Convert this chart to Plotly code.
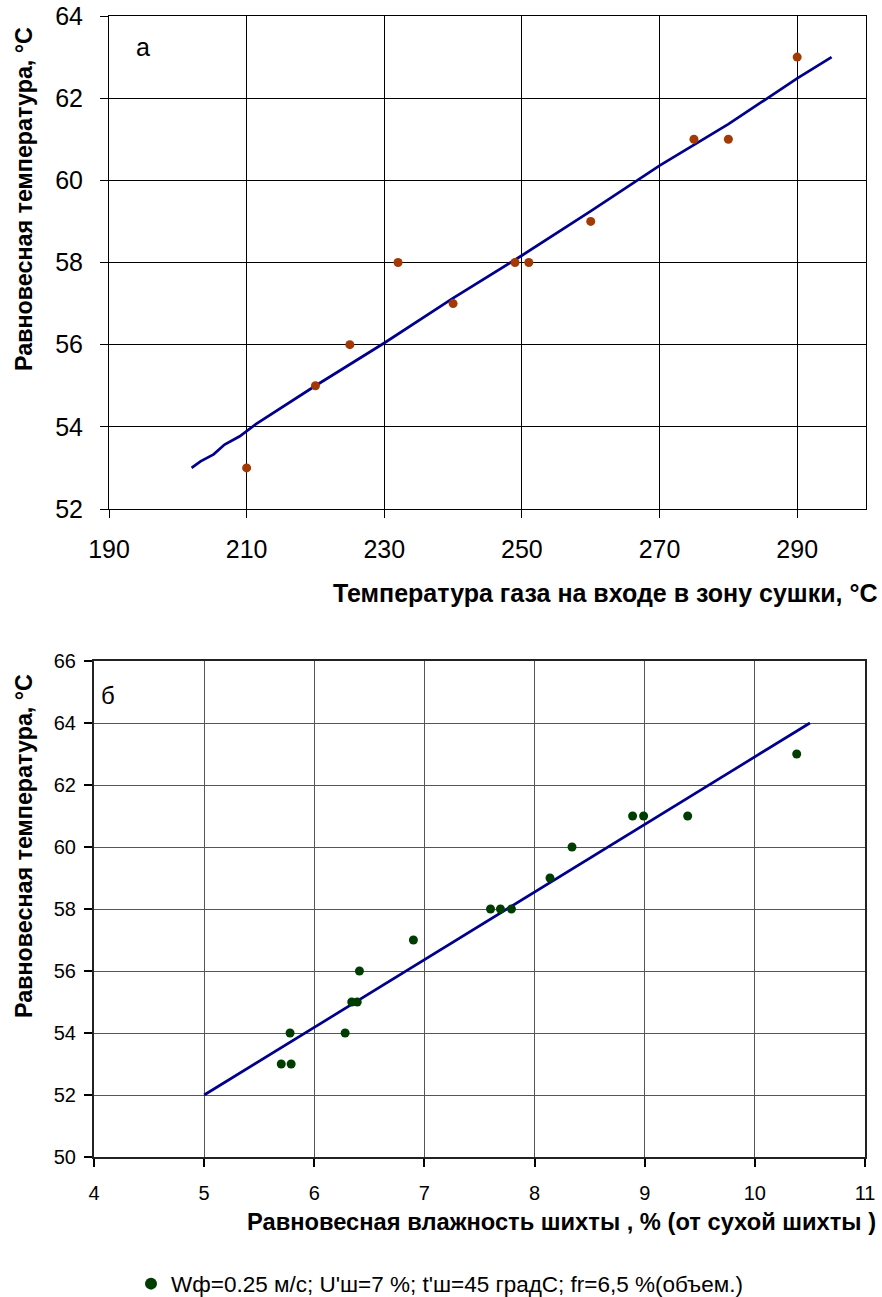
import plotly.graph_objects as go

W, H = 882, 1297

# ---- data: chart "а" ----
a_x = [210, 220, 225, 232, 240, 249, 251, 260, 275, 280, 290]
a_y = [53, 55, 56, 58, 57, 58, 58, 59, 61, 61, 63]
a_fit_x = [202, 203.3, 205.2, 206.8, 209, 211.4, 220, 230, 240, 250, 260, 270, 280, 290, 295]
a_fit_y = [53.0, 53.16, 53.33, 53.57, 53.77, 54.07, 55.0, 56.04, 57.13, 58.17, 59.25, 60.36, 61.37, 62.48, 63.0]
a_xticks = [190, 210, 230, 250, 270, 290]
a_yticks = [52, 54, 56, 58, 60, 62, 64]

# ---- data: chart "б" ----
b_x = [5.70, 5.79, 5.78, 6.28, 6.34, 6.39, 6.41, 6.90, 7.60, 7.69, 7.79, 8.14, 8.34, 8.89, 8.99, 9.39, 10.38]
b_y = [53, 53, 54, 54, 55, 55, 56, 57, 58, 58, 58, 59, 60, 61, 61, 61, 63]
b_fit_x = [5, 10.5]
b_fit_y = [52, 64]
b_xticks = [4, 5, 6, 7, 8, 9, 10, 11]
b_yticks = [50, 52, 54, 56, 58, 60, 62, 64, 66]

legend_name = "Wф=0.25 м/с; U'ш=7 %; t'ш=45 градС; fr=6,5 %(объем.)"

FONT = "Liberation Sans, Arial, sans-serif"
NAVY = "#00008c"
BROWN = "#a33a06"
GREEN = "#003d00"


def px(x):
    return x / W


def py(y):
    return 1 - y / H


fig = go.Figure()
fig.add_trace(go.Scatter(x=a_fit_x, y=a_fit_y, mode="lines", line=dict(color=NAVY, width=2.7),
                         xaxis="x", yaxis="y", showlegend=False, hoverinfo="skip"))
fig.add_trace(go.Scatter(x=a_x, y=a_y, mode="markers", marker=dict(color=BROWN, size=9),
                         xaxis="x", yaxis="y", showlegend=False))
fig.add_trace(go.Scatter(x=b_fit_x, y=b_fit_y, mode="lines", line=dict(color=NAVY, width=2.7),
                         xaxis="x2", yaxis="y2", showlegend=False, hoverinfo="skip"))
fig.add_trace(go.Scatter(x=b_x, y=b_y, mode="markers", marker=dict(color=GREEN, size=9),
                         xaxis="x2", yaxis="y2", name=legend_name, showlegend=True))

common_a = dict(showline=True, linecolor="black", linewidth=1, mirror=True, automargin=False,
                showgrid=True, gridcolor="#000000", gridwidth=1, zeroline=False,
                ticks="outside", ticklen=8, tickcolor="black", tickwidth=1,
                tickfont=dict(family=FONT, size=25, color="black"))
common_b = dict(showline=True, linecolor="#222222", linewidth=2, mirror=True, automargin=False,
                showgrid=True, gridcolor="#555555", gridwidth=1, zeroline=False,
                ticks="outside", ticklen=8, tickcolor="black", tickwidth=2,
                tickfont=dict(family=FONT, size=20, color="black"))

fig.update_layout(
    width=W, height=H,
    margin=dict(l=0, r=0, t=0, b=0, autoexpand=False),
    paper_bgcolor="white", plot_bgcolor="white",
    font=dict(family=FONT, color="black"),
    xaxis=dict(domain=[px(109), px(866)], range=[190, 300], tickvals=a_xticks,
               anchor="y", ticklabelstandoff=10, **common_a),
    yaxis=dict(domain=[py(509), py(16)], range=[52, 64], tickvals=a_yticks,
               anchor="x", ticklabelstandoff=12, **common_a),
    xaxis2=dict(domain=[px(94), px(865)], range=[4, 11], tickvals=b_xticks,
                anchor="y2", ticklabelstandoff=9, **common_b),
    yaxis2=dict(domain=[py(1157), py(661)], range=[50, 66], tickvals=b_yticks,
                anchor="x2", ticklabelstandoff=4, **common_b),
    legend=dict(orientation="h", x=px(131), y=py(1284), xanchor="left", yanchor="middle",
                font=dict(family=FONT, size=22.5, color="black"), bgcolor="rgba(0,0,0,0)",
                itemsizing="constant", itemwidth=30),
    showlegend=True,
)

ann = []
ann.append(dict(text="<b>Равновесная температура, °C</b>", x=px(24), y=py(199), xref="paper", yref="paper",
                textangle=-90, showarrow=False, xanchor="center", yanchor="middle",
                font=dict(family=FONT, size=23.3, color="black")))
ann.append(dict(text="<b>Температура газа на входе в зону сушки, °C</b>", x=px(879), y=py(593),
                xref="paper", yref="paper", showarrow=False, xanchor="right", yanchor="middle",
                font=dict(family=FONT, size=25, color="black")))
ann.append(dict(text="<b>Равновесная температура, °C</b>", x=px(24), y=py(846), xref="paper", yref="paper",
                textangle=-90, showarrow=False, xanchor="center", yanchor="middle",
                font=dict(family=FONT, size=23.3, color="black")))
ann.append(dict(text="<b>Равновесная влажность шихты , % (от сухой шихты )</b>", x=px(245), y=py(1222),
                xref="paper", yref="paper", showarrow=False, xanchor="left", yanchor="middle",
                font=dict(family=FONT, size=23.7, color="black")))
ann.append(dict(text="а", x=px(143), y=py(47), xref="paper", yref="paper", showarrow=False,
                xanchor="center", yanchor="middle", font=dict(family=FONT, size=25, color="black")))
ann.append(dict(text="б", x=px(108), y=py(695), xref="paper", yref="paper", showarrow=False,
                xanchor="center", yanchor="middle", font=dict(family=FONT, size=24, color="black")))
fig.update_layout(annotations=ann)

fig.write_html(
    "out.html",
    config={"displayModeBar": False},
    post_script="document.body.style.margin='0';document.body.style.padding='0';"
                "document.documentElement.style.overflow='hidden';",
)
